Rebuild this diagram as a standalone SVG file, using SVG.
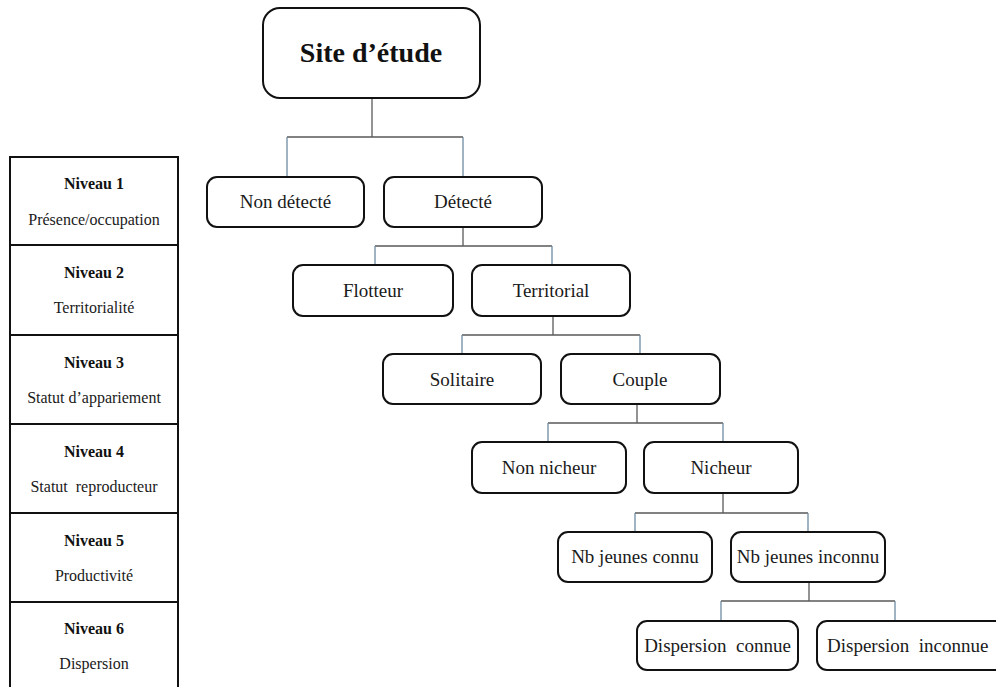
<svg xmlns="http://www.w3.org/2000/svg" width="996" height="687" viewBox="0 0 996 687">
<style>
  .box{fill:#fff;stroke:#111;stroke-width:2}
  .lbl{font-family:"Liberation Serif","Times New Roman",serif;font-size:19px;fill:#1a1a1a;text-anchor:middle}
  .root{font-family:"Liberation Serif","Times New Roman",serif;font-size:28px;font-weight:bold;fill:#111;text-anchor:middle}
  .lv{font-family:"Liberation Serif","Times New Roman",serif;font-size:16px;font-weight:bold;fill:#111;text-anchor:middle}
  .ld{font-family:"Liberation Serif","Times New Roman",serif;font-size:16px;fill:#1a1a1a;text-anchor:middle}
  .tab{fill:none;stroke:#111;stroke-width:2}
  .conn{fill:none;stroke:#5a5a5a;stroke-width:1.3}
  .drop{fill:none;stroke:#6f8ca3;stroke-width:1.3}
</style>
<rect width="996" height="687" fill="#fff"/>

<g id="levels">
  <path class="tab" d="M10,690 V157 H178 V690 M10,245 H178 M10,335 H178 M10,424 H178 M10,513 H178 M10,602 H178"/>
  <text class="lv" x="94" y="189">Niveau 1</text>
  <text class="ld" x="94" y="225">Présence/occupation</text>
  <text class="lv" x="94" y="278">Niveau 2</text>
  <text class="ld" x="94" y="313">Territorialité</text>
  <text class="lv" x="94" y="368">Niveau 3</text>
  <text class="ld" x="94" y="403">Statut d’appariement</text>
  <text class="lv" x="94" y="457">Niveau 4</text>
  <text class="ld" x="94" y="492" xml:space="preserve">Statut  reproducteur</text>
  <text class="lv" x="94" y="546">Niveau 5</text>
  <text class="ld" x="94" y="581">Productivité</text>
  <text class="lv" x="94" y="634">Niveau 6</text>
  <text class="ld" x="94" y="669">Dispersion</text>
</g>

<g id="connectors">
  <path class="conn" d="M372,98 V137 M287,137 H463"/>
  <path class="drop" d="M287,137 V177 M463,137 V177"/>
  <path class="conn" d="M463,227 V246 M375,246 H552"/>
  <path class="drop" d="M375,246 V265 M552,246 V265"/>
  <path class="conn" d="M553,316 V335 M462,335 H640"/>
  <path class="drop" d="M462,335 V354 M640,335 V354"/>
  <path class="conn" d="M637,404 V423 M548,423 H723"/>
  <path class="drop" d="M548,423 V442 M723,423 V442"/>
  <path class="conn" d="M723,493 V513 M635,513 H808"/>
  <path class="drop" d="M635,513 V532 M808,513 V532"/>
  <path class="conn" d="M809,582 V601 M721,601 H895"/>
  <path class="drop" d="M721,601 V621 M895,601 V621"/>
</g>

<g id="site">
  <rect class="box" x="263" y="8" width="217" height="90" rx="17"/>
  <text class="root" x="371" y="62">Site d’étude</text>
</g>
<g id="non-detecte">
  <rect class="box" x="207" y="177" width="157" height="50" rx="10"/>
  <text class="lbl" x="285.5" y="208">Non détecté</text>
</g>
<g id="detecte">
  <rect class="box" x="384" y="177" width="158" height="50" rx="10"/>
  <text class="lbl" x="463" y="208">Détecté</text>
</g>
<g id="flotteur">
  <rect class="box" x="293" y="265" width="160" height="51" rx="10"/>
  <text class="lbl" x="373" y="297">Flotteur</text>
</g>
<g id="territorial">
  <rect class="box" x="472" y="265" width="158" height="51" rx="10"/>
  <text class="lbl" x="551" y="297">Territorial</text>
</g>
<g id="solitaire">
  <rect class="box" x="383" y="354" width="158" height="50" rx="10"/>
  <text class="lbl" x="462" y="386">Solitaire</text>
</g>
<g id="couple">
  <rect class="box" x="561" y="354" width="159" height="50" rx="10"/>
  <text class="lbl" x="640" y="386">Couple</text>
</g>
<g id="non-nicheur">
  <rect class="box" x="472" y="442" width="154" height="51" rx="10"/>
  <text class="lbl" x="549" y="474">Non nicheur</text>
</g>
<g id="nicheur">
  <rect class="box" x="644" y="442" width="154" height="51" rx="10"/>
  <text class="lbl" x="721" y="474">Nicheur</text>
</g>
<g id="nb-connu">
  <rect class="box" x="558" y="532" width="154" height="50" rx="10"/>
  <text class="lbl" x="635" y="563">Nb jeunes connu</text>
</g>
<g id="nb-inconnu">
  <rect class="box" x="731" y="532" width="154" height="50" rx="10"/>
  <text class="lbl" x="808" y="563">Nb jeunes inconnu</text>
</g>
<g id="dispersion-connue">
  <rect class="box" x="637" y="621" width="161" height="49" rx="10"/>
  <text class="lbl" x="717.5" y="652" xml:space="preserve">Dispersion  connue</text>
</g>
<g id="dispersion-inconnue">
  <rect class="box" x="817" y="621" width="195" height="49" rx="10"/>
  <text class="lbl" x="827" y="652" style="text-anchor:start" xml:space="preserve">Dispersion  inconnue</text>
</g>
</svg>
